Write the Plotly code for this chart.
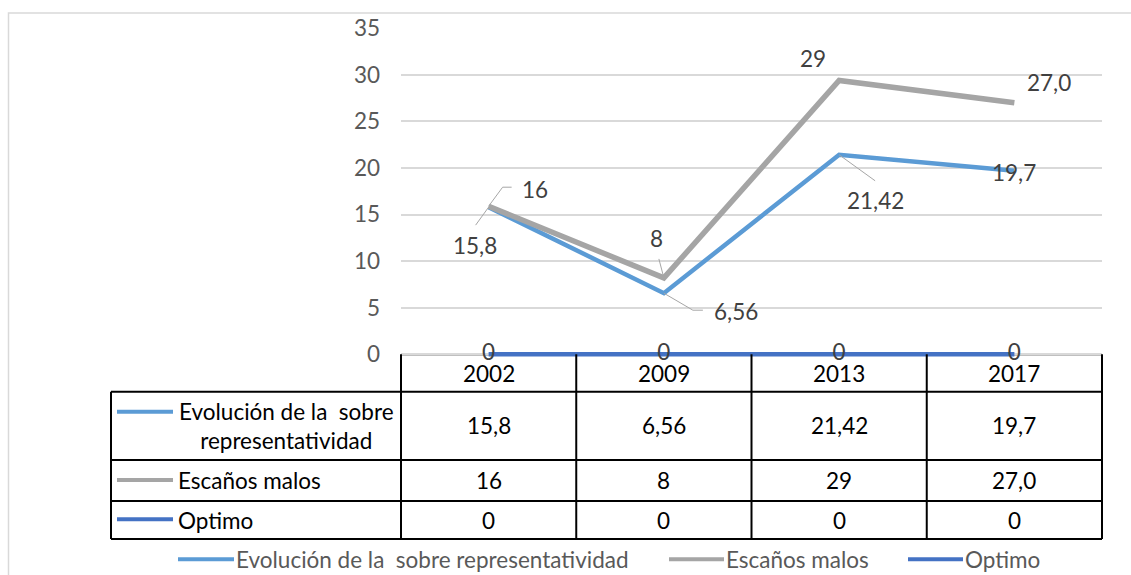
import plotly.graph_objects as go

# ---------------- data ----------------
categories = ["2002", "2009", "2013", "2017"]
series_names = ["Evolución de la\u00a0 sobre representatividad", "Escaños malos", "Optimo"]
table_row_names = ["Evolución de la\u00a0 sobre<br>representatividad", "Escaños malos", "Optimo"]
evolucion = [15.8, 6.56, 21.42, 19.7]
escanos = [15.9, 8.2, 29.4, 27.0]
optimo = [0, 0, 0, 0]
evolucion_labels = ["15,8", "6,56", "21,42", "19,7"]
escanos_labels = ["16", "8", "29", "27,0"]
optimo_labels = ["0", "0", "0", "0"]
y_ticks = [0, 5, 10, 15, 20, 25, 30, 35]

# ---------------- style / layout ----------------
W, H = 1131, 575
FONT = "Lato"
FS = 22.5
C_BLUE = "#5B9BD5"
C_GREY = "#A5A5A5"
C_DBLUE = "#4472C4"
C_LBL = "#404040"
C_AX = "#595959"

PLOT_L, PLOT_R = 401, 1102
Y0_PX, YTOP_PX = 354.3, 28.3
YMAX = 35
ppu = (Y0_PX - YTOP_PX) / YMAX
YMIN = -0.5
ybot_px = Y0_PX - YMIN * ppu


def fx(px):
    return px / W


def fy(px):
    return 1 - px / H


xs = list(range(len(categories)))

fig = go.Figure()
fig.add_trace(go.Scatter(x=xs, y=evolucion, mode="lines", name=series_names[0],
                         line=dict(color=C_BLUE, width=4.5), showlegend=False))
fig.add_trace(go.Scatter(x=xs, y=escanos, mode="lines", name=series_names[1],
                         line=dict(color=C_GREY, width=5.5), showlegend=False))
fig.add_trace(go.Scatter(x=xs, y=optimo, mode="lines+text", name=series_names[2],
                         text=optimo_labels, textposition="middle center",
                         textfont=dict(family=FONT, size=FS, color=C_LBL),
                         line=dict(color=C_DBLUE, width=4.5), cliponaxis=False,
                         showlegend=False))

shapes = []
annotations = []

# data labels: (dx, dy) screen-pixel offsets of label centre, leader path in screen px
evo_style = [((-14, 38), [(0, 0), (-13, 18)]),
             ((72, 18), [(0, 0), (29, 17), (39, 17)]),
             ((36, 46), [(0, 0), (36, 26)]),
             ((0, 2), None)]
esc_style = [((46, -17), [(0, 0), (14, -19), (23, -19)]),
             ((-7, -39), [(0, 0), (-5, -19)]),
             ((-26, -22), None),
             ((35, -20), None)]

for vals, labels, styles in [(evolucion, evolucion_labels, evo_style),
                             (escanos, escanos_labels, esc_style)]:
    for i, (v, lab, st) in enumerate(zip(vals, labels, styles)):
        (dx, dy), leader = st
        annotations.append(dict(x=xs[i], y=v, xref="x", yref="y", text=lab, showarrow=False,
                                xshift=dx, yshift=-dy, xanchor="center", yanchor="middle",
                                font=dict(family=FONT, size=FS, color=C_LBL)))
        if leader:
            path = "M" + " L".join(f"{px},{-py}" for px, py in leader)
            shapes.append(dict(type="path", xref="x", yref="y", xsizemode="pixel",
                               ysizemode="pixel", xanchor=xs[i], yanchor=v, path=path,
                               line=dict(color="#A6A6A6", width=1)))

# ---------------- data table ----------------
T_LEFT = 111
row_px = [354.3, 391.7, 460, 501, 539]
col_px = [PLOT_L + k * (PLOT_R - PLOT_L) / len(categories) for k in range(len(categories) + 1)]
LW = 2
TC = "#000000"

# top border (under the Optimo line)
shapes.append(dict(type="line", xref="paper", yref="paper", x0=fx(PLOT_L), x1=fx(PLOT_R),
                   y0=fy(row_px[0]), y1=fy(row_px[0]), line=dict(color=TC, width=LW),
                   layer="between"))
for r in row_px[1:]:
    shapes.append(dict(type="line", xref="paper", yref="paper", x0=fx(T_LEFT), x1=fx(PLOT_R),
                       y0=fy(r), y1=fy(r), line=dict(color=TC, width=LW)))
for c in col_px:
    shapes.append(dict(type="line", xref="paper", yref="paper", x0=fx(c), x1=fx(c),
                       y0=fy(row_px[0]), y1=fy(row_px[-1]), line=dict(color=TC, width=LW)))
shapes.append(dict(type="line", xref="paper", yref="paper", x0=fx(T_LEFT), x1=fx(T_LEFT),
                   y0=fy(row_px[1]), y1=fy(row_px[-1]), line=dict(color=TC, width=LW)))

# header
for i, cat in enumerate(categories):
    annotations.append(dict(x=xs[i], y=fy((row_px[0] + row_px[1]) / 2), xref="x", yref="paper",
                            text=cat, showarrow=False, xanchor="center", yanchor="middle",
                            font=dict(family=FONT, size=FS, color="#000")))

row_vals = [evolucion_labels, escanos_labels, optimo_labels]
row_colors = [C_BLUE, C_GREY, C_DBLUE]
key_y = [411.7, 480, 519.3]
for r in range(3):
    yc = (row_px[r + 1] + row_px[r + 2]) / 2
    for i in range(len(categories)):
        annotations.append(dict(x=xs[i], y=fy(yc), xref="x", yref="paper", text=row_vals[r][i],
                                showarrow=False, xanchor="center", yanchor="middle",
                                font=dict(family=FONT, size=FS, color="#000")))
    shapes.append(dict(type="line", xref="paper", yref="paper", x0=fx(117), x1=fx(173),
                       y0=fy(key_y[r]), y1=fy(key_y[r]), line=dict(color=row_colors[r], width=4)))
    if r == 0:
        annotations.append(dict(x=fx(286), y=fy(yc), xref="paper", yref="paper",
                                text=table_row_names[r], showarrow=False, align="center",
                                xanchor="center", yanchor="middle",
                                font=dict(family=FONT, size=FS, color="#000")))
    else:
        annotations.append(dict(x=fx(176), y=fy(yc), xref="paper", yref="paper",
                                text=table_row_names[r], showarrow=False, xanchor="left",
                                yanchor="middle",
                                font=dict(family=FONT, size=FS, color="#000")))

# ---------------- legend ----------------
LEG_Y = 559.3
leg_items = [(178, 234), (669, 724), (908, 963)]
for (a, b), name, col in zip(leg_items, series_names, row_colors):
    shapes.append(dict(type="line", xref="paper", yref="paper", x0=fx(a), x1=fx(b),
                       y0=fy(LEG_Y), y1=fy(LEG_Y), line=dict(color=col, width=4)))
    annotations.append(dict(x=fx(b), y=fy(LEG_Y), xref="paper", yref="paper", text=name,
                            showarrow=False, xanchor="left", yanchor="middle",
                            font=dict(family=FONT, size=FS, color=C_AX)))

# chart border
shapes.append(dict(type="rect", xref="paper", yref="paper", x0=fx(8.5), x1=1.05,
                   y0=-0.05, y1=fy(13), line=dict(color="#D9D9D9", width=1.5), layer="below"))

fig.update_layout(
    width=W, height=H, margin=dict(l=0, r=0, t=0, b=0, autoexpand=False),
    paper_bgcolor="white", plot_bgcolor="rgba(0,0,0,0)",
    xaxis=dict(domain=[fx(PLOT_L), fx(PLOT_R)], range=[-0.5, len(categories) - 0.5],
               showticklabels=False, showgrid=False, zeroline=False, showline=False,
               fixedrange=True, automargin=False),
    yaxis=dict(domain=[fy(ybot_px), fy(YTOP_PX)], range=[YMIN, YMAX], tickvals=y_ticks,
               showgrid=True, gridcolor="#D9D9D9", gridwidth=1.5, zeroline=False,
               showline=False, ticklabelstandoff=20, automargin=False,
               tickfont=dict(family=FONT, size=FS, color=C_AX), fixedrange=True),
    shapes=shapes, annotations=annotations,
)

fig.write_html("out.html")
